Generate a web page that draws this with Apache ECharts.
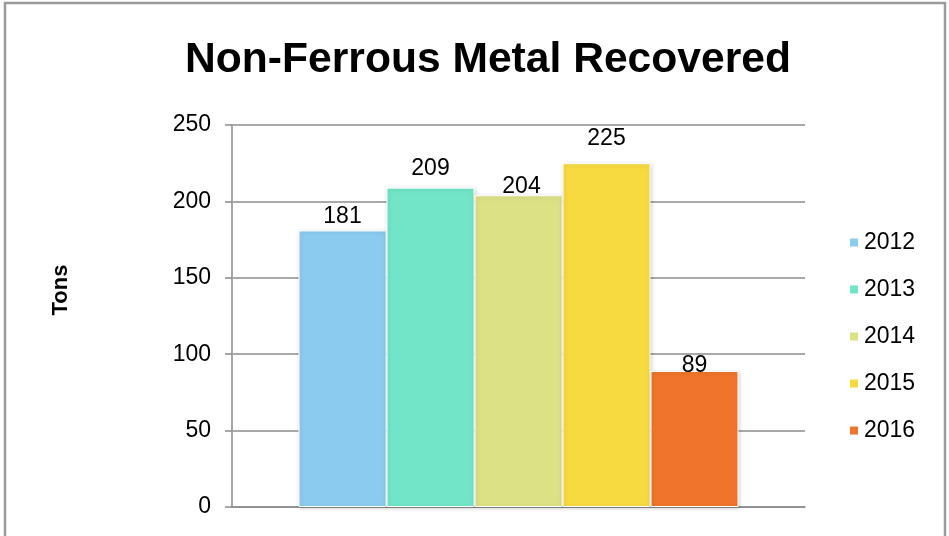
<!DOCTYPE html>
<html>
<head>
<meta charset="utf-8">
<script src="https://cdn.jsdelivr.net/npm/echarts@6/dist/echarts.min.js"></script>
<style>
  html, body { margin: 0; padding: 0; background: #fff; }
  #chart { width: 949px; height: 536px; }
</style>
</head>
<body>
<div id="chart"></div>
<script>
// Tons of non-ferrous metal recovered per year
const years = ['2012', '2013', '2014', '2015', '2016'];
const tons = [181, 209, 204, 225, 89];
const yTicks = [0, 50, 100, 150, 200, 250];
const barColors = ['#8BCBEF', '#72E5C8', '#DCE186', '#F7D940', '#F0752C'];

// small per-label nudges [dx, dy] so value labels sit where they are drawn
const labelNudge = [[0, -2], [0, -7], [3, 3], [0, -13], [0, 6]];

const FONT = '"Liberation Sans", Arial, sans-serif';

const chart = echarts.init(document.getElementById('chart'), null, { renderer: 'canvas' });

const series = years.map((yr, i) => ({
  name: yr,
  type: 'bar',
  data: [tons[i]],
  barWidth: 88,
  barGap: '0%',
  itemStyle: {
    color: barColors[i],
    borderColor: '#ffffff',
    borderWidth: 1,
    shadowBlur: 4,
    shadowColor: 'rgba(0,0,0,0.18)',
    shadowOffsetX: 1,
    shadowOffsetY: 1
  },
  label: {
    show: true,
    position: 'top',
    distance: 0,
    offset: labelNudge[i],
    color: '#000',
    fontFamily: FONT,
    fontSize: 23
  },
  emphasis: { disabled: true }
}));

chart.setOption({
  animation: false,
  backgroundColor: '#ffffff',
  title: {
    text: 'Non-Ferrous Metal Recovered',
    left: 483,
    top: 34,
    textAlign: 'center',
    textStyle: {
      fontFamily: FONT,
      fontWeight: 'bold',
      fontSize: 42.6,
      color: '#000'
    }
  },
  legend: {
    orient: 'vertical',
    left: 843,
    top: 226,
    icon: 'rect',
    itemWidth: 10,
    itemHeight: 10,
    itemGap: 24,
    data: years,
    textStyle: { fontFamily: FONT, fontSize: 23, color: '#000' },
    selectedMode: false
  },
  grid: {
    left: 232,
    right: 144,
    top: 125,
    bottom: 29,
    containLabel: false
  },
  xAxis: {
    type: 'category',
    data: ['Tons'],
    axisLine: { show: true, lineStyle: { color: '#8c8c8c', width: 1.5 } },
    axisTick: { show: false },
    axisLabel: { show: false }
  },
  yAxis: {
    type: 'value',
    min: yTicks[0],
    max: yTicks[yTicks.length - 1],
    interval: yTicks[1] - yTicks[0],
    axisLine: { show: true, lineStyle: { color: '#a6a6a6', width: 2 } },
    axisTick: { show: true, length: 7, lineStyle: { color: '#8c8c8c', width: 1.5 } },
    axisLabel: {
      margin: 21,
      color: '#000',
      fontFamily: FONT,
      fontSize: 23
    },
    splitLine: { show: true, lineStyle: { color: '#8c8c8c', width: 1.5 } }
  },
  graphic: [
    {
      type: 'rect',
      silent: true,
      shape: { x: 5, y: 3, width: 940, height: 620 },
      style: { fill: 'none', stroke: '#9a9a9a', lineWidth: 2.5 },
      z: 100
    },
    {
      type: 'text',
      silent: true,
      x: 61,
      y: 290,
      rotation: Math.PI / 2,
      style: {
        text: 'Tons',
        fontFamily: FONT,
        fontWeight: 'bold',
        fontSize: 22,
        fill: '#000',
        textAlign: 'center',
        textVerticalAlign: 'middle'
      }
    }
  ],
  series: series
});
</script>
</body>
</html>
